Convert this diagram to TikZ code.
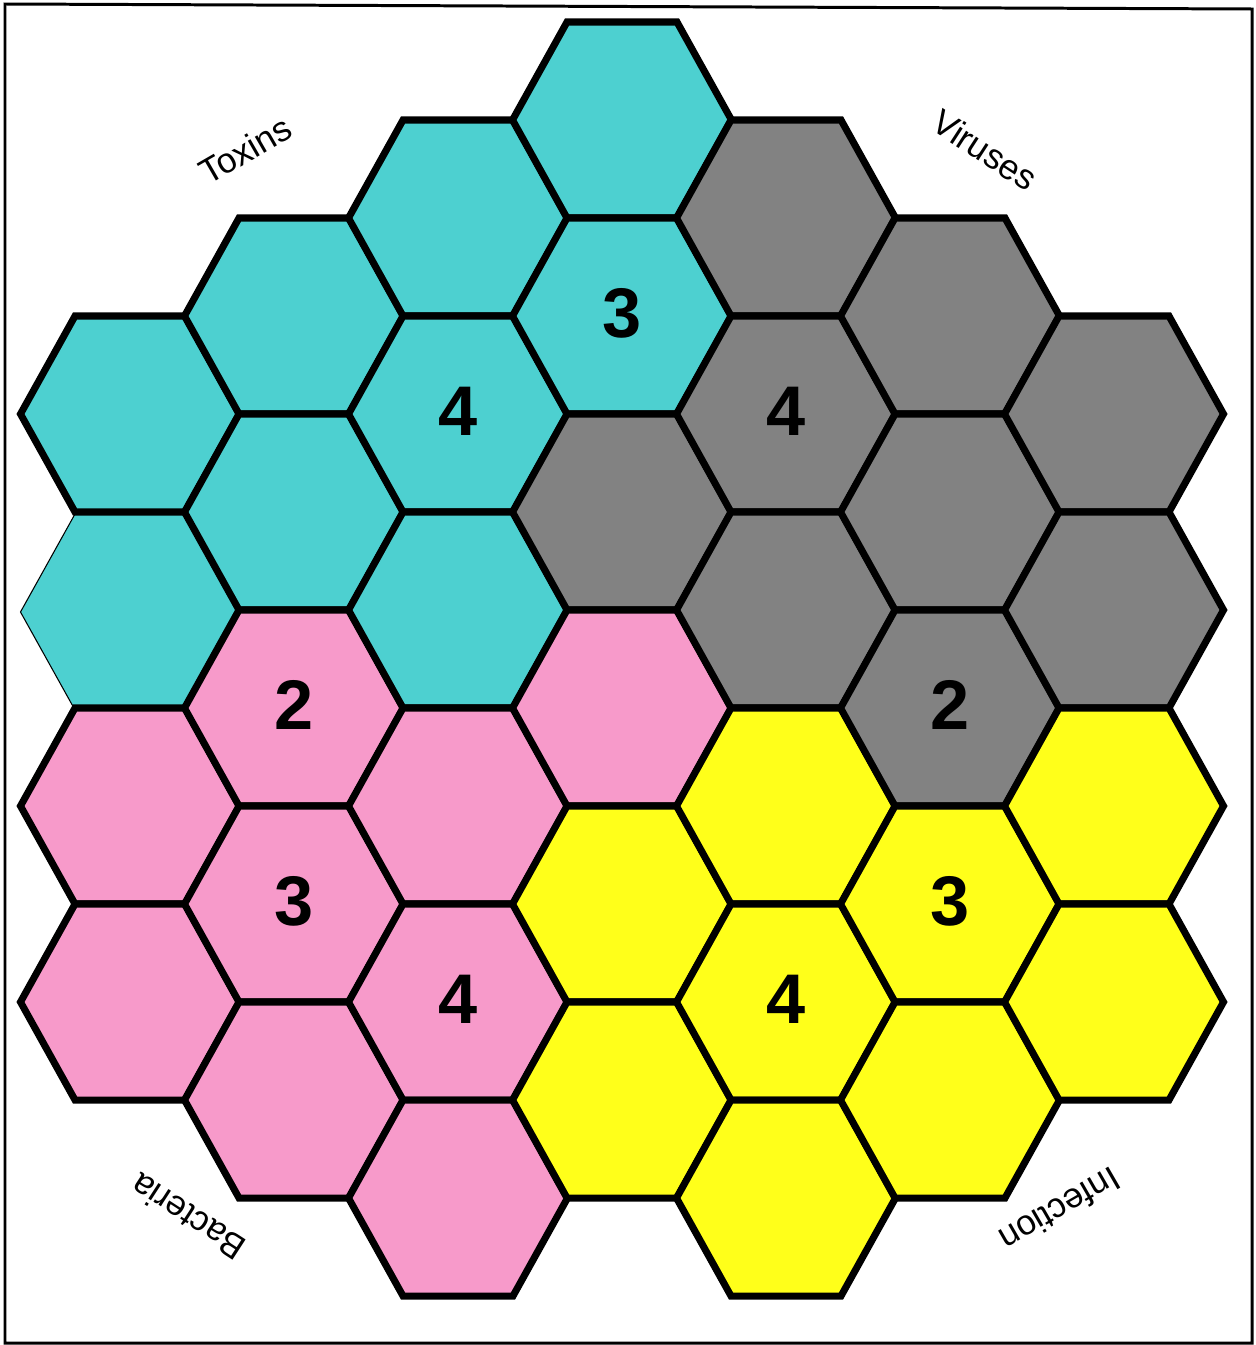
\documentclass[tikz,border=0pt]{standalone}
\usepackage{fontspec}
\setmainfont{Liberation Sans}
\usetikzlibrary{positioning}
\definecolor{HexCyan}{HTML}{4DD0D0}
\definecolor{HexGrey}{HTML}{828282}
\definecolor{HexPink}{HTML}{F79ACA}
\definecolor{HexYellow}{HTML}{FFFF1A}

\begin{document}
\begin{tikzpicture}[
 x=0.02cm,y=-0.02cm,
 hexcell/.style={draw=black,line width=4pt},
 thincell/.style={draw=black,line width=0.6pt},
 digit/.style={font=\fontsize{40}{40}\selectfont\bfseries,text=black,inner sep=0pt},
 corner/.style={font=\fontsize{20}{20}\selectfont,text=black,inner sep=0pt}
]
\useasboundingbox (0,0) rectangle (1255,1345);
\draw[line width=1.7pt] (5,4) -- (1252,9) -- (1252,1343) -- (5,1343) -- cycle;

% the one cell with a thin rim goes first
\draw[thincell,fill=HexCyan,shift={(130,612)}]
  (-109.5,0) -- (-55,-98) -- (55,-98) -- (109.5,0) -- (55,98) -- (-55,98) -- cycle;

% column / row / colour
\foreach \c/\k/\fc in {0/0/HexCyan,0/2/HexPink,0/3/HexPink,
  1/0/HexCyan,1/1/HexCyan,1/2/HexPink,1/3/HexPink,1/4/HexPink,
  2/0/HexCyan,2/1/HexCyan,2/2/HexCyan,2/3/HexPink,2/4/HexPink,2/5/HexPink,
  3/0/HexCyan,3/1/HexCyan,3/2/HexGrey,3/3/HexPink,3/4/HexYellow,3/5/HexYellow,
  4/0/HexGrey,4/1/HexGrey,4/2/HexGrey,4/3/HexYellow,4/4/HexYellow,4/5/HexYellow,
  5/0/HexGrey,5/1/HexGrey,5/2/HexGrey,5/3/HexYellow,5/4/HexYellow,
  6/0/HexGrey,6/1/HexGrey,6/2/HexYellow,6/3/HexYellow}{
  \pgfmathsetmacro\cx{622+164*(\c-3)}
  \pgfmathsetmacro\cy{120+98*abs(\c-3)+196*\k}
  \draw[hexcell,fill=\fc,shift={(\cx,\cy)}]
    (-109.5,0) -- (-55,-98) -- (55,-98) -- (109.5,0) -- (55,98) -- (-55,98) -- cycle;
}

% numbers in the cells
\foreach \c/\k/\num in {3/1/3,2/1/4,4/1/4,1/2/2,5/2/2,1/3/3,5/3/3,2/4/4,4/4/4}{
  \pgfmathsetmacro\cx{622+164*(\c-3)}
  \pgfmathsetmacro\cy{117+98*abs(\c-3)+196*\k}
  \node[digit] (n-\c-\k) at (\cx,\cy) {\num};
}

\node[corner,rotate=30] (toxins) at (245,150) {Toxins};
\node[corner,rotate=-33] (viruses) at (985,150) {Viruses};
\node[corner,rotate=147] (bacteria) at (188,1217) {Bacteria};
\node[corner,rotate=210] (infection) at (1060,1210) {Infection};
\end{tikzpicture}
\end{document}
